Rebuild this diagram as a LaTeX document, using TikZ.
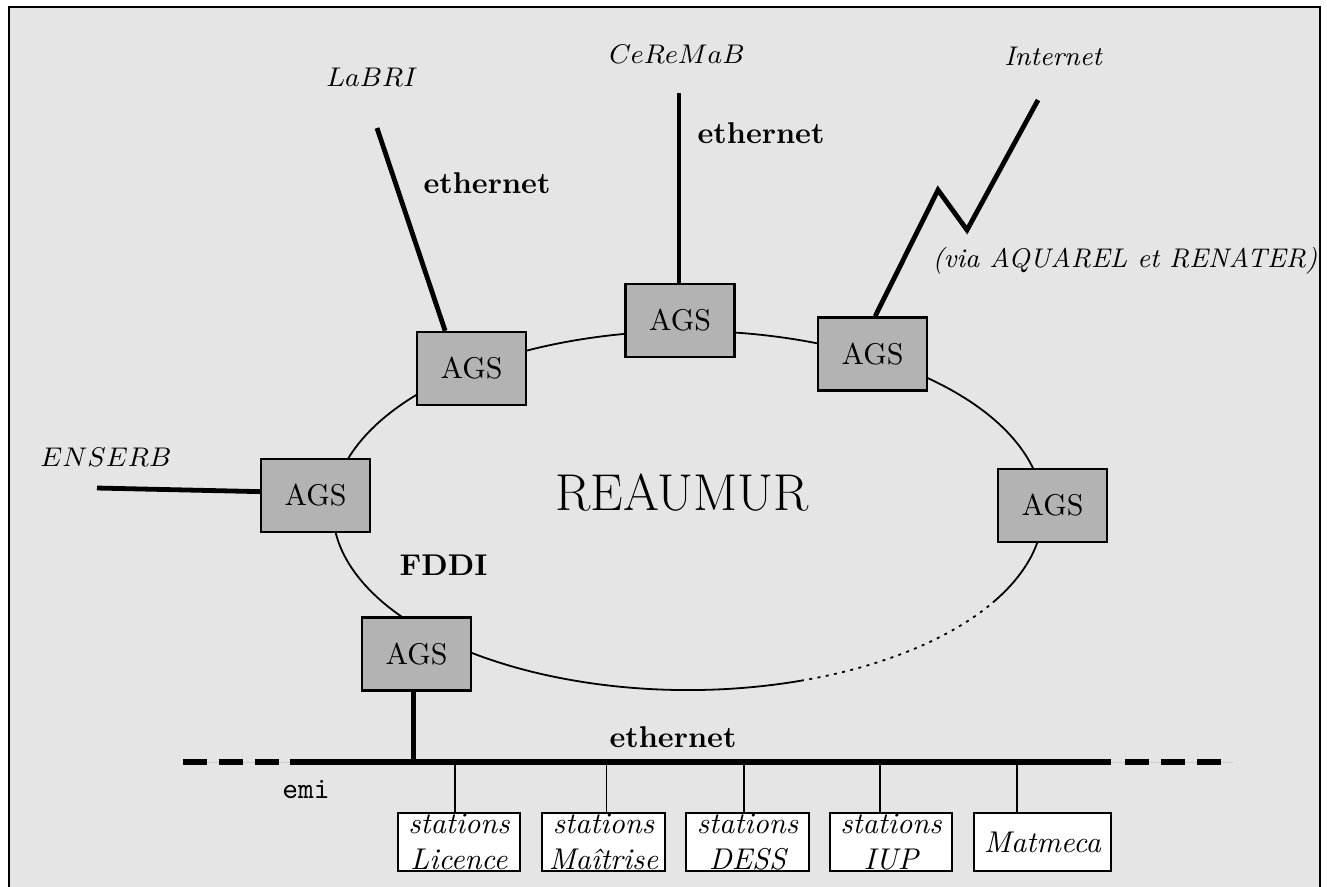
\documentclass[tikz,border=0pt]{standalone}
\usetikzlibrary{calc}
\definecolor{bgc}{RGB}{229,229,229}
\definecolor{agsc}{RGB}{179,179,179}
\definecolor{busgray}{RGB}{205,205,205}
\begin{document}
\begin{tikzpicture}[x=0.33333pt,y=-0.33333pt,
  ags/.style={draw=black, line width=0.8pt, fill=agsc, minimum width=36.33pt, minimum height=24.33pt, inner sep=0pt},
  stbox/.style={draw=black, line width=0.7pt, fill=white, minimum height=19.33pt, inner sep=0pt, align=center, font=\itshape},
  ring/.style={line width=0.6pt},
  thickline/.style={line width=1.6pt},
  busline/.style={line width=1.7pt},
  drop/.style={line width=0.6pt},
  lbl/.style={anchor=base, inner sep=0pt},
  mathlbl/.style={lbl, font=\fontsize{9.5}{11.5}\selectfont},
  smit/.style={lbl, font=\fontsize{9}{11}\selectfont\itshape},
]
\useasboundingbox (0,0) rectangle (1327,886);
\fill[white] (0,0) rectangle (1327,886);
\draw[line width=0.7pt, fill=bgc] (9,7) rectangle (1320,900);

% FDDI ring
\draw[ring] (688,510.5) ++(71.1:355 and 179.5) arc[start angle=71.1, end angle=390.8, x radius=355, y radius=179.5];
\draw[ring, dash pattern=on 1pt off 1.8pt] (688,510.5) ++(32:355 and 179.5) arc[start angle=32, end angle=71.1, x radius=355, y radius=179.5];

% AGS routers
\node[ags] (a1) at (471.5,368.5) {AGS};
\node[ags] (a2) at (680,320.5) {AGS};
\node[ags] (a3) at (872.5,354) {AGS};
\node[ags] (a4) at (1052.5,505.5) {AGS};
\node[ags] (a5) at (315.5,495.5) {AGS};
\node[ags] (a6) at (416.5,654) {AGS};

% external links
\coordinate (labriEnd) at (377,128);
\draw[thickline] (labriEnd) -- (a1.125);
\coordinate (ceremabEnd) at (679,93);
\draw[thickline] (ceremabEnd) -- (ceremabEnd |- a2.north);
\coordinate (zz1) at (938,190);
\coordinate (zz2) at (967,230);
\coordinate (inetEnd) at (1038,100);
\draw[thickline, line join=miter] (a3.86) -- (zz1) -- (zz2) -- (inetEnd);
\coordinate (enserbEnd) at (97,488);
\draw[thickline] (enserbEnd) -- (a5.176);

% ethernet bus
\coordinate (grayL) at (183,762);
\coordinate (grayR) at (1233,762);
\coordinate (dashL) at (183,762);
\coordinate (busL) at (290,762);
\coordinate (busR) at (1111,762);
\coordinate (dashR0) at (1125,762);
\coordinate (dashR) at (1230,762);
\draw[line width=0.3pt, busgray] (grayL) -- (grayR);
\draw[busline] (busL) -- (busR);
\draw[busline, dash pattern=on 8pt off 4pt] (dashL) -- (busL);
\draw[busline, dash pattern=on 8pt off 4pt] (dashR0) -- (dashR);
\draw[thickline] (a6.265) -- (a6.265 |- busL);

% stations
\node[stbox, minimum width=40.93pt] (s1) at (459,842) {stations\\Licence};
\node[stbox, minimum width=41pt] (s2) at (603.5,842) {stations\\Maîtrise};
\node[stbox, minimum width=41pt] (s3) at (747.5,842) {stations\\DESS};
\node[stbox, minimum width=40.67pt] (s4) at (891,842) {stations\\IUP};
\node[stbox, minimum width=45.67pt] (s5) at (1042.5,842) {Matmeca};
\draw[drop] ([xshift=-1.33pt]s1.north) -- ([xshift=-1.33pt]s1.north |- busL);
\draw[drop] ([xshift=1pt]s2.north) -- ([xshift=1pt]s2.north |- busL);
\draw[drop] ([xshift=-1.17pt]s3.north) -- ([xshift=-1.17pt]s3.north |- busL);
\draw[drop] ([xshift=-3.67pt]s4.north) -- ([xshift=-3.67pt]s4.north |- busL);
\draw[drop] ([xshift=-8.5pt]s5.north) -- ([xshift=-8.5pt]s5.north |- busL);

% labels
\node[mathlbl] (tlabri) at (372,86) {$LaBRI$};
\node[lbl, font=\bfseries] (teth1) at (487,193) {ethernet};
\node[mathlbl] (tceremab) at (677,63) {$CeReMaB$};
\node[lbl, font=\bfseries] (teth2) at (761,143) {ethernet};
\node[smit] (tinet) at (1053,65) {Internet};
\node[smit] (tvia) at (1125,267) {(via AQUAREL et RENATER)};
\node[mathlbl] (tenserb) at (106,466.7) {$ENSERB$};
\node[lbl, font=\LARGE] (treaumur) at (682,510) {REAUMUR};
\node[lbl, font=\bfseries] (tfddi) at (443.5,575) {FDDI};
\node[lbl, font=\bfseries] (teth3) at (673,747) {ethernet};
\node[lbl, font=\ttfamily] (temi) at (306,798) {emi};
\end{tikzpicture}
\end{document}
